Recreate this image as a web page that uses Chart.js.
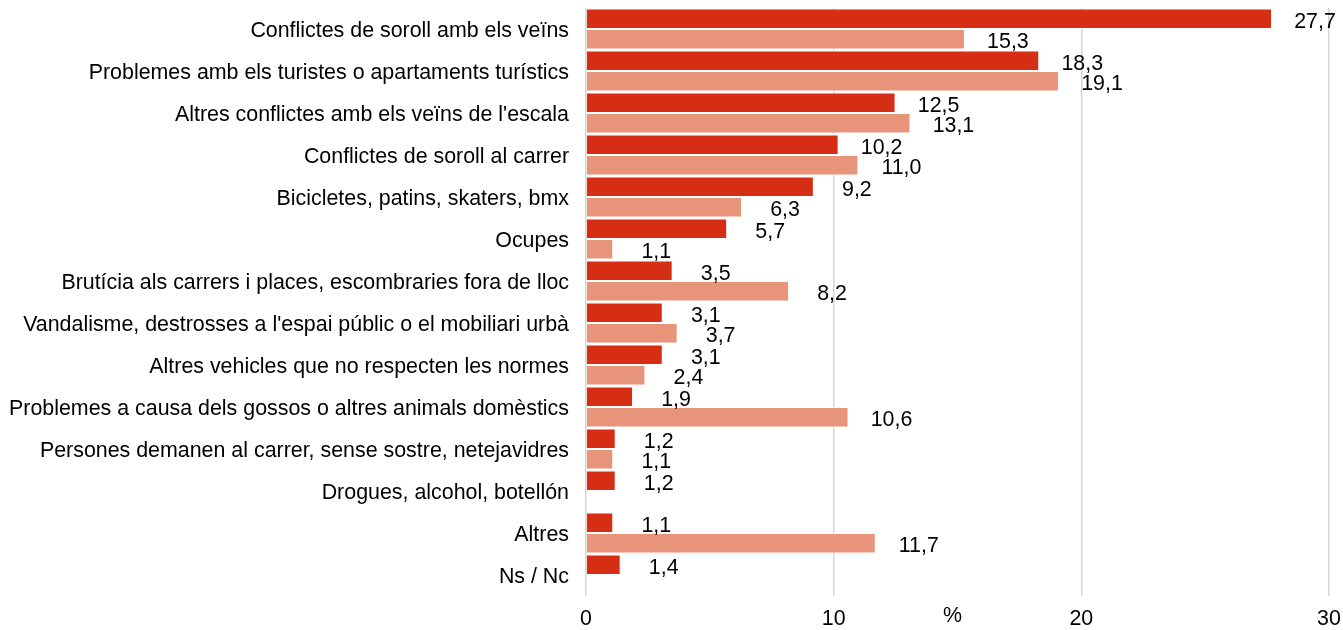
<!DOCTYPE html>
<html>
<head>
<meta charset="utf-8">
<script src="https://cdn.jsdelivr.net/npm/chart.js@4"></script>
<style>
  html, body { margin: 0; padding: 0; background: #fff; }
  #wrap { width: 1343px; height: 630px; position: relative; }
</style>
</head>
<body>
<div id="wrap"><canvas id="problemes"></canvas></div>
<script>
// categories (top to bottom)
const categories = [
  "Conflictes de soroll amb els veïns",
  "Problemes amb els turistes o apartaments turístics",
  "Altres conflictes amb els veïns de l'escala",
  "Conflictes de soroll al carrer",
  "Bicicletes, patins, skaters, bmx",
  "Ocupes",
  "Brutícia als carrers i places, escombraries fora de lloc",
  "Vandalisme, destrosses a l'espai públic o el mobiliari urbà",
  "Altres vehicles que no respecten les normes",
  "Problemes a causa dels gossos o altres animals domèstics",
  "Persones demanen al carrer, sense sostre, netejavidres",
  "Drogues, alcohol, botellón",
  "Altres",
  "Ns / Nc"
];
// dark series
const serieA = [27.7, 18.3, 12.5, 10.2, 9.2, 5.7, 3.5, 3.1, 3.1, 1.9, 1.2, 1.2, 1.1, 1.4];
// light series (no value for two categories)
const serieB = [15.3, 19.1, 13.1, 11.0, 6.3, 1.1, 8.2, 3.7, 2.4, 10.6, 1.1, null, 11.7, null];
const xTicks = [0, 10, 20, 30];

const FONT = "'Liberation Sans', Arial, sans-serif";
const SIZE = 21.4;

// value labels at the end of each bar
const valueLabels = {
  id: "valueLabels",
  afterDatasetsDraw(chart) {
    const ctx = chart.ctx;
    ctx.save();
    ctx.font = SIZE + "px " + FONT;
    ctx.fillStyle = "#000";
    ctx.textAlign = "center";
    ctx.textBaseline = "middle";
    chart.data.datasets.forEach((ds, i) => {
      const meta = chart.getDatasetMeta(i);
      meta.data.forEach((bar, j) => {
        const v = ds.data[j];
        if (v === null || v === undefined) return;
        ctx.fillText(v.toFixed(1).replace(".", ","), bar.x + 43, bar.y + 3);
      });
    });
    ctx.restore();
  }
};

// "%" unit, same line as the tick labels
const unitLabel = {
  id: "unitLabel",
  afterDraw(chart) {
    const ctx = chart.ctx;
    const area = chart.chartArea;
    ctx.save();
    ctx.font = SIZE + "px " + FONT;
    ctx.fillStyle = "#000";
    ctx.textAlign = "center";
    ctx.textBaseline = "middle";
    ctx.fillText("%", (area.left + area.right) / 2 - 5, 616);
    ctx.restore();
  }
};

const chartData = {
  labels: categories,
  datasets: [
    {
      label: "A",
      data: serieA,
      backgroundColor: "#d62e14",
      borderColor: "#ffffff",
      borderWidth: 1,
      categoryPercentage: 0.98,
      barPercentage: 1
    },
    {
      label: "B",
      data: serieB,
      backgroundColor: "#e8947b",
      borderColor: "#ffffff",
      borderWidth: 1,
      categoryPercentage: 0.98,
      barPercentage: 1
    }
  ]
};

const ctx = document.querySelector("#problemes");
new Chart(ctx, {
  type: "bar",
  data: chartData,
  options: {
    indexAxis: "y",
    responsive: true,
    maintainAspectRatio: false,
    animation: false,
    layout: { padding: { top: 8, right: 14, bottom: 0, left: 0 } },
    plugins: {
      legend: { display: false },
      tooltip: { enabled: false }
    },
    scales: {
      x: {
        min: 0,
        max: 30,
        afterBuildTicks: (axis) => { axis.ticks = xTicks.map((v) => ({ value: v })); },
        grid: { color: "#d6d6d6", lineWidth: 1.5, drawTicks: false },
        border: { display: false },
        ticks: {
          color: "#000",
          padding: 10,
          maxRotation: 0,
          font: { family: FONT, size: SIZE }
        },
        afterFit: (axis) => {
          axis.height = 34;
          axis.paddingLeft = 0;
          axis.paddingRight = 0;
        }
      },
      y: {
        grid: { display: false },
        border: { display: false },
        ticks: {
          color: "#000",
          padding: 9,
          labelOffset: 2,
          autoSkip: false,
          font: { family: FONT, size: SIZE }
        },
        afterFit: (axis) => {
          axis.width = 586;
          axis.paddingTop = 0;
          axis.paddingBottom = 0;
        }
      }
    }
  },
  plugins: [valueLabels, unitLabel]
});
</script>
</body>
</html>
